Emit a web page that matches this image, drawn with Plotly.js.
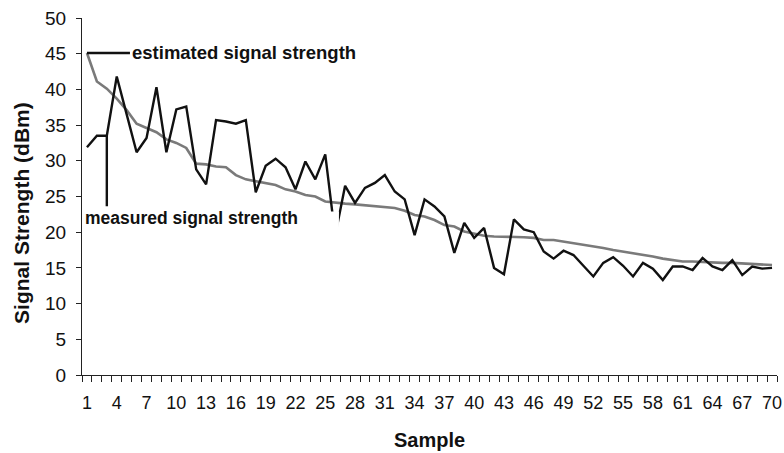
<!DOCTYPE html>
<html>
<head>
<meta charset="utf-8">
<script src="https://cdn.plot.ly/plotly-3.0.1.min.js"></script>
<style>
html,body{margin:0;padding:0;background:#fff;}
#chart{width:784px;height:453px;}
</style>
</head>
<body>
<div id="chart"></div>
<script>
const samples = [1,2,3,4,5,6,7,8,9,10,11,12,13,14,15,16,17,18,19,20,21,22,23,24,25,26,27,28,29,30,31,32,33,34,35,36,37,38,39,40,41,42,43,44,45,46,47,48,49,50,51,52,53,54,55,56,57,58,59,60,61,62,63,64,65,66,67,68,69,70];

const measured = [31.9,33.5,33.5,41.8,36.5,31.2,33.2,40.3,31.2,37.2,
                  37.6,28.8,26.7,35.7,35.5,35.2,35.7,25.6,29.3,30.3,
                  29.1,26.0,29.9,27.4,30.9,19.5,26.5,24.1,26.2,26.9,
                  28.0,25.7,24.6,19.6,24.6,23.6,22.2,17.1,21.3,19.2,
                  20.6,15.0,14.1,21.8,20.4,20.0,17.3,16.3,17.4,16.8,
                  15.3,13.8,15.7,16.5,15.3,13.8,15.7,14.9,13.3,15.2,
                  15.2,14.7,16.4,15.2,14.7,16.1,14.0,15.2,14.9,15.0];

const estimated = [45.1,41.1,40.1,38.7,37.1,35.2,34.6,34.0,33.0,32.5,
                   31.8,29.6,29.5,29.2,29.1,28.0,27.4,27.1,26.8,26.6,
                   26.0,25.7,25.2,25.0,24.3,24.1,24.0,23.9,23.8,23.7,
                   23.6,23.4,23.0,22.4,22.2,21.7,21.0,20.8,20.1,19.8,
                   19.5,19.4,19.4,19.3,19.3,19.2,18.9,18.9,18.7,18.5,
                   18.2,18.0,17.8,17.5,17.3,17.0,16.8,16.6,16.3,16.1,
                   15.9,15.9,15.8,15.8,15.7,15.7,15.6,15.5,15.4,15.4];

const tickLabels = [1,4,7,10,13,16,19,22,25,28,31,34,37,40,43,46,49,52,55,58,61,64,67,70];
const yTicks = [0,5,10,15,20,25,30,35,40,45,50];

const labelEstimated = 'estimated signal strength';
const labelMeasured = 'measured signal strength';
const yTitle = 'Signal Strength (dBm)';
const xTitle = 'Sample';

const FONT = 'Liberation Sans, Arial, sans-serif';

const traces = [
  {x: samples, y: estimated, type: 'scatter', mode: 'lines', name: labelEstimated,
   line: {color: '#7a7a7a', width: 2.6}, hoverinfo: 'skip'},
  {x: samples, y: measured, type: 'scatter', mode: 'lines', name: labelMeasured,
   line: {color: '#111111', width: 2.4}, hoverinfo: 'skip'},
  {x: samples, y: samples.map(() => null), xaxis: 'x2', type: 'scatter', mode: 'lines',
   showlegend: false, hoverinfo: 'skip'}
];

const layout = {
  width: 784, height: 453,
  margin: {l: 82, r: 7, t: 18, b: 78},
  paper_bgcolor: '#ffffff', plot_bgcolor: '#ffffff',
  showlegend: false,
  font: {family: FONT, color: '#111', size: 18},
  xaxis: {
    range: [0.5, 70.5], tickmode: 'linear', tick0: 0.5, dtick: 1,
    ticks: 'outside', ticklen: 6, tickwidth: 1, tickcolor: '#222',
    showticklabels: false, showline: true, linecolor: '#222', linewidth: 1,
    showgrid: false, zeroline: false, automargin: false,
    title: {text: xTitle, font: {family: FONT, size: 20, color: '#111', weight: 'bold'}, standoff: 51}
  },
  xaxis2: {
    overlaying: 'x', anchor: 'y', side: 'bottom', range: [0.5, 70.5],
    tickmode: 'array', tickvals: tickLabels, ticktext: tickLabels.map(String),
    ticks: 'outside', ticklen: 6, tickcolor: 'rgba(0,0,0,0)', ticklabelstandoff: 5,
    showline: false, showgrid: false, zeroline: false, automargin: false,
    tickfont: {family: FONT, size: 18, color: '#111'}
  },
  yaxis: {
    range: [0, 50], tickmode: 'array', tickvals: yTicks,
    ticks: 'outside', ticklen: 5, tickcolor: '#222',
    showline: true, linecolor: '#222', linewidth: 1,
    showgrid: false, zeroline: false, ticklabelstandoff: 6, automargin: false,
    tickfont: {family: FONT, size: 19, color: '#111'}
  },
  shapes: [
    {type: 'rect', xref: 'x', yref: 'y', x0: 0.75, x1: 26.38, y0: 18.3, y1: 22.9,
     fillcolor: '#ffffff', line: {width: 0}, layer: 'above'}
  ],
  annotations: [
    {x: samples[0], y: estimated[0], xref: 'x', yref: 'y', text: labelEstimated,
     showarrow: true, arrowhead: 0, arrowwidth: 2.4, arrowcolor: '#111',
     ax: 43, ay: 0, xanchor: 'left', yanchor: 'middle',
     font: {family: FONT, size: 18.5, color: '#111', weight: 'bold'}},
    {x: samples[2], y: measured[2], xref: 'x', yref: 'y', text: '',
     showarrow: true, arrowhead: 0, arrowwidth: 2.4, arrowcolor: '#111',
     ax: 0, ay: 72},
    {x: 0.75, y: 23.6, xref: 'x', yref: 'y', text: labelMeasured,
     showarrow: false, xanchor: 'left', yanchor: 'top', borderpad: 0,
     font: {family: FONT, size: 17.5, color: '#111', weight: 'bold'}},
    {x: -0.0863, y: 0.454, xref: 'paper', yref: 'paper', text: yTitle, textangle: -90,
     showarrow: false, xanchor: 'center', yanchor: 'middle',
     font: {family: FONT, size: 21, color: '#111', weight: 'bold'}}
  ]
};

Plotly.newPlot('chart', traces, layout, {staticPlot: true, displayModeBar: false});
</script>
</body>
</html>
